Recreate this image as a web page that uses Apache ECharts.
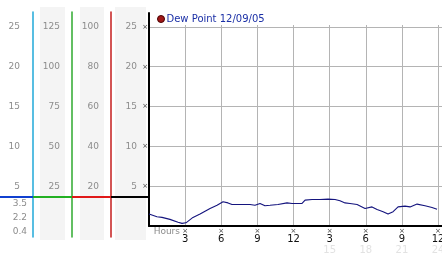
<!DOCTYPE html>
<html><head><meta charset="utf-8">
<script src="https://cdn.jsdelivr.net/npm/echarts@6/dist/echarts.min.js"></script>
<style>html,body{margin:0;padding:0;background:#fff}#c{width:442px;height:253px}</style>
</head><body><div id="c"></div>
<script>
// ---- data ----
const seriesName = 'Dew Point 12/09/05';
const hours = [0,0.1,0.66,1.08,1.74,2.41,2.74,3.07,3.65,4.24,5.07,5.65,6.15,6.56,6.89,7.97,8.39,8.8,9.22,9.63,10.05,10.71,11.46,11.88,12.71,12.96,13.54,14.2,14.87,15.45,15.86,16.28,16.69,17.28,17.94,18.52,18.94,19.44,19.85,20.27,20.68,21.26,21.68,22.26,22.92,23.5,23.92];
const dewPoint = [1.5,1.45,1.17,1.08,0.83,0.46,0.33,0.4,1.08,1.5,2.2,2.6,3.04,2.9,2.7,2.7,2.7,2.6,2.83,2.54,2.6,2.7,2.9,2.83,2.83,3.25,3.33,3.33,3.38,3.33,3.17,2.9,2.83,2.7,2.2,2.4,2.08,1.8,1.5,1.8,2.4,2.5,2.4,2.75,2.54,2.33,2.1];
const xLabels = ['3','6','9','12','3','6','9','12'];
const xSubLabels = ['','','','','15','18','21','24'];
const col1Labels = [5,10,15,20,25];
const col2Labels = [25,50,75,100,125];
const col3Labels = [20,40,60,80,100];
const col4Labels = [5,10,15,20,25];
const lowerLabels = ['0.4','2.2','3.5'];

// ---- chart ----
const FONT = 'DejaVu Sans';
const GRAY = '#8c8c8c';
function colFmt(arr){
  return function(v){
    const i = v/5 - 1;
    if (!Number.isInteger(i) || i < 0 || i >= arr.length) return '';
    return String(arr[i]);
  };
}
function colAxis(arr, offset, margin){
  return {
    type:'value', gridIndex:0, position:'left', offset:offset, min:0, max:26.75, interval:5,
    axisLine:{show:false, onZero:false}, axisTick:{show:false}, splitLine:{show:false},
    axisLabel:{show:true, margin:margin, color:GRAY, fontSize:9, fontFamily:FONT, formatter:colFmt(arr), showMaxLabel:false, showMinLabel:false}
  };
}
function lineAxis(offset, color){
  return {
    type:'value', gridIndex:1, position:'left', offset:offset, min:0, max:1,
    axisLine:{show:true, onZero:false, lineStyle:{color:color, width:1.5}}, axisTick:{show:false},
    axisLabel:{show:false}, splitLine:{show:false}
  };
}
const chart = echarts.init(document.getElementById('c'), null, {renderer:'canvas'});
chart.setOption({
  animation:false,
  backgroundColor:'#ffffff',
  textStyle:{fontFamily:FONT},
  graphic:[
    {type:'rect', z:-10, shape:{x:40,y:7,width:25,height:233}, style:{fill:'#f4f4f4'}},
    {type:'rect', z:-10, shape:{x:80,y:7,width:24,height:233}, style:{fill:'#f4f4f4'}},
    {type:'rect', z:-10, shape:{x:115,y:7,width:31,height:233}, style:{fill:'#f4f4f4'}},
    {type:'line', z:50, shape:{x1:0,y1:197,x2:33,y2:197}, style:{stroke:'#1040d0', lineWidth:2}},
    {type:'line', z:50, shape:{x1:33,y1:197,x2:72,y2:197}, style:{stroke:'#22b022', lineWidth:2}},
    {type:'line', z:50, shape:{x1:72,y1:197,x2:111,y2:197}, style:{stroke:'#e01818', lineWidth:2}},
    {type:'line', z:50, shape:{x1:111,y1:197,x2:149,y2:197}, style:{stroke:'#000000', lineWidth:2}}
  ],
  legend:{
    left:157, top:14, padding:0, itemWidth:7, itemHeight:7, icon:'circle',
    textStyle:{color:'#1a2fa6', fontSize:10, fontFamily:FONT, padding:[0,0,0,-3]},
    data:[{name:seriesName, icon:'circle', itemStyle:{color:'#a01818', borderColor:'#4a0000', borderWidth:1}}]
  },
  grid:[
    {left:149, right:0, top:13, bottom:27, outerBoundsMode:'none'},
    {left:149, right:0, top:12, bottom:16, outerBoundsMode:'none'},
    {left:149, right:0, top:25, bottom:27, outerBoundsMode:'none'},
    {left:33, width:10, top:197, bottom:14, outerBoundsMode:'none'}
  ],
  xAxis:[
    {type:'value', gridIndex:0, min:0, max:24.33, interval:3,
     name:'Hours', nameLocation:'start', nameGap:-31, nameMoveOverlap:false,
     nameTextStyle:{color:GRAY, fontSize:9, fontFamily:FONT, align:'right', verticalAlign:'top', padding:[1,0,0,0]},
     axisLine:{show:true, onZero:false, lineStyle:{color:'#000', width:2}}, axisTick:{show:false}, splitLine:{show:false},
     axisLabel:{show:true, margin:2, showMaxLabel:true, hideOverlap:false,
       formatter:function(v){
         const i = Math.round(v/3) - 1;
         if (Math.abs(v - Math.round(v/3)*3) > 1e-6 || i < 0 || i >= xLabels.length) return '';
         return '{m|×}\n{n|' + xLabels[i] + '}\n{s|' + (xSubLabels[i] || ' ') + '}';
       },
       rich:{
         m:{fontSize:7, lineHeight:7, color:'#444', fontFamily:FONT},
         n:{fontSize:10, lineHeight:9, color:'#111', fontFamily:FONT},
         s:{fontSize:10, lineHeight:12, color:'#e2e2e2', fontFamily:FONT}
       }}},
    {type:'value', gridIndex:1, min:0, max:1, show:false},
    {type:'value', gridIndex:2, min:0, max:24.33, interval:3,
     axisLine:{show:false}, axisTick:{show:false}, axisLabel:{show:false},
     splitLine:{show:true, showMinLine:false, showMaxLine:false, lineStyle:{color:'#b4b4b4', width:1}}},
    {type:'value', gridIndex:3, min:0, max:1, show:false}
  ],
  yAxis:[
    {type:'value', gridIndex:0, position:'left', min:0, max:26.75, interval:5,
     axisLine:{show:true, onZero:false, lineStyle:{color:'#000', width:2}}, axisTick:{show:false},
     splitLine:{show:true, showMinLine:false, showMaxLine:false, lineStyle:{color:'#b4b4b4', width:1}},
     axisLabel:{show:true, margin:1, color:'#444', fontSize:7, fontFamily:FONT, showMinLabel:false, showMaxLabel:false,
       formatter:function(v){ return (v > 0 && v <= 25 && v % 5 === 0) ? '×' : ''; }}},
    colAxis(col4Labels, 0, 12),
    colAxis(col3Labels, 38, 12),
    colAxis(col2Labels, 77, 12),
    colAxis(col1Labels, 116, 13),
    lineAxis(38, '#c41c1c'),
    lineAxis(77, '#2faa2f'),
    lineAxis(116, '#20a8d8'),
    {type:'value', gridIndex:2, min:0, max:1, show:false},
    {type:'category', gridIndex:3, data:lowerLabels, position:'left',
     axisLine:{show:false, onZero:false}, axisTick:{show:false}, splitLine:{show:false},
     axisLabel:{show:true, margin:6, color:GRAY, fontSize:9, fontFamily:FONT, interval:0}}
  ],
  series:[{
    name:seriesName, type:'line', xAxisIndex:0, yAxisIndex:0,
    data:hours.map((h,i)=>[h, dewPoint[i]]),
    showSymbol:false, symbol:'none', smooth:false,
    lineStyle:{color:'#14147e', width:1.1}, itemStyle:{color:'#14147e'}, z:5
  }]
});
</script></body></html>
